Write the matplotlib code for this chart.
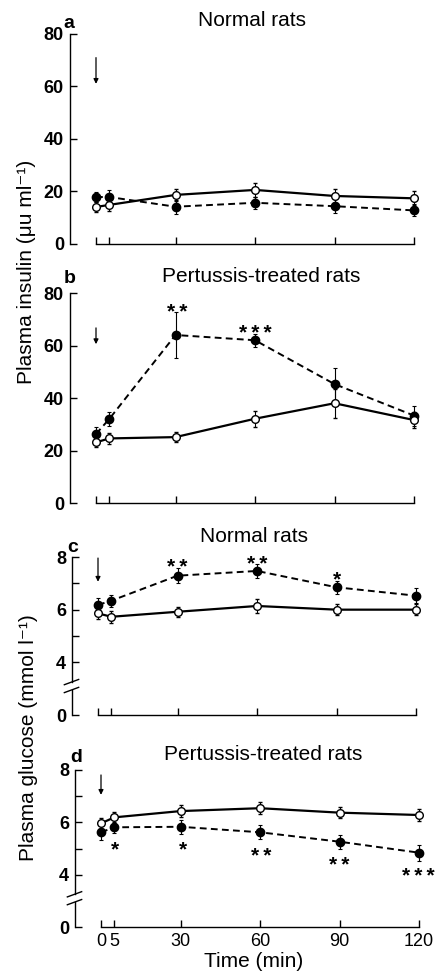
import matplotlib
matplotlib.use('Agg')
import matplotlib.pyplot as plt

plt.rcParams['font.family'] = ['Liberation Sans', 'DejaVu Sans']

# sampling times (min)
TIMES = [0, 5, 30, 60, 90, 120]
TIME_LABELS = ['0', '5', '30', '60', '90', '120']

# plasma insulin (uU/ml), normal rats
ins_norm_ctrl = [14.1, 14.9, 18.7, 20.6, 18.3, 17.4]
ins_norm_ctrl_err = [2.0, 2.4, 2.3, 2.7, 2.8, 2.7]
ins_norm_trt = [17.9, 17.9, 14.2, 15.7, 14.4, 12.8]
ins_norm_trt_err = [2.0, 2.5, 2.7, 2.3, 2.7, 2.3]

# plasma insulin, pertussis-treated rats
ins_pert_ctrl = [23.1, 24.6, 25.1, 32.1, 38.0, 31.6]
ins_pert_ctrl_err = [1.8, 2.2, 1.8, 3.0, 5.5, 3.2]
ins_pert_trt = [26.3, 32.0, 64.0, 62.0, 45.3, 33.3]
ins_pert_trt_err = [2.7, 2.8, 8.8, 2.4, 6.0, 3.8]

# plasma glucose (mmol/l), normal rats
glu_norm_ctrl = [5.86, 5.73, 5.92, 6.14, 6.00, 6.00]
glu_norm_ctrl_err = [0.22, 0.22, 0.20, 0.25, 0.22, 0.20]
glu_norm_trt = [6.18, 6.34, 7.29, 7.47, 6.85, 6.53]
glu_norm_trt_err = [0.25, 0.22, 0.28, 0.27, 0.25, 0.28]

# plasma glucose, pertussis-treated rats
glu_pert_ctrl = [5.96, 6.19, 6.43, 6.54, 6.37, 6.28]
glu_pert_ctrl_err = [0.20, 0.20, 0.22, 0.22, 0.20, 0.22]
glu_pert_trt = [5.62, 5.81, 5.83, 5.62, 5.26, 4.84]
glu_pert_trt_err = [0.30, 0.22, 0.27, 0.27, 0.27, 0.30]

# significance marks: (time, y, number of stars)
stars_b = [(30.5, 75.4, 2), (60, 67.4, 3)]
stars_c = [(30, 7.85, 2), (60, 8.0, 2), (90, 7.4, 1)]
stars_d = [(5.3, 5.2, 1), (31, 5.2, 1), (60.6, 4.98, 2),
           (90, 4.6, 2), (119.6, 4.18, 3)]

W, H = 440, 973
PX_PER_MIN = 2.65
STAR_FS = 15


def _rect(x0_px, y_top_px, y_bot_px):
    left = x0_px - 10 * PX_PER_MIN
    width = 135 * PX_PER_MIN
    return [left / W, 1 - y_bot_px / H, width / W, (y_bot_px - y_top_px) / H]


def _panel(fig, rect, ctrl, ctrl_err, trt, trt_err, ylim, yticks, yticklabels,
           arrow, stars, show_x=False, broken=False):
    ax = fig.add_axes(rect)
    ax.errorbar(TIMES, trt, yerr=trt_err, color='k', ls=(0, (3.5, 2.2)), lw=1.4,
                marker='o', ms=6, mfc='k', mec='k', elinewidth=0.8, capsize=1.6,
                capthick=0.8, zorder=3)
    ax.errorbar(TIMES, ctrl, yerr=ctrl_err, color='k', ls='-', lw=1.6,
                marker='o', ms=5.5, mfc='white', mec='k', mew=1.0, elinewidth=0.8,
                capsize=1.6, capthick=0.8, zorder=4)

    ax.annotate('', xy=(0, arrow[1]), xytext=(0, arrow[0]),
                arrowprops=dict(arrowstyle='-|>', lw=0.9, color='k',
                                mutation_scale=7, shrinkA=0, shrinkB=0))
    for x, y, n in stars:
        ax.annotate('\u2009'.join('*' * n), (x, y), xytext=(0, -0.6 * STAR_FS),
                    textcoords='offset points', ha='center', va='baseline',
                    fontsize=STAR_FS, fontweight='bold')

    ax.set_xlim(-10, 125)
    ax.set_ylim(*ylim)
    for side in ('top', 'right'):
        ax.spines[side].set_visible(False)
    ax.spines['bottom'].set_bounds(0, 120)
    ax.spines['left'].set_linewidth(1.0)
    ax.spines['bottom'].set_linewidth(1.0)
    ax.set_xticks(TIMES)
    ax.set_xticklabels(TIME_LABELS if show_x else [])
    ax.set_yticks(yticks)
    ax.set_yticklabels(yticklabels, fontweight='bold')
    ax.tick_params(direction='in', length=5, width=1.0, labelsize=13, pad=4)

    if broken:
        ax.set_yticks([5, 7], minor=True)
        ax.tick_params(which='minor', direction='in', length=5, width=1.0)
        ax.spines['left'].set_bounds(3.25, ylim[1])
        tr = ax.get_yaxis_transform()
        ax.plot([0, 0], [ylim[0], 2.95], color='k', lw=1.0, transform=tr,
                clip_on=False)
        for yb in (2.95, 3.25):
            ax.plot([-0.02, 0.02], [yb - 0.1, yb + 0.1], color='k', lw=1.0,
                    transform=tr, clip_on=False)
    else:
        ax.spines['left'].set_bounds(*ylim)
    return ax


fig = plt.figure(figsize=(W / 100, H / 100), dpi=100)

_panel(fig, _rect(96, 34, 244), ins_norm_ctrl, ins_norm_ctrl_err,
       ins_norm_trt, ins_norm_trt_err, (0, 80), [0, 20, 40, 60, 80],
       ['0', '20', '40', '60', '80'], (71, 61), [])
_panel(fig, _rect(96, 293, 503), ins_pert_ctrl, ins_pert_ctrl_err,
       ins_pert_trt, ins_pert_trt_err, (0, 80), [0, 20, 40, 60, 80],
       ['0', '20', '40', '60', '80'], (66.7, 60.5), stars_b)
_panel(fig, _rect(98, 557, 715), glu_norm_ctrl, glu_norm_ctrl_err,
       glu_norm_trt, glu_norm_trt_err, (2, 8), [2, 4, 6, 8],
       ['0', '4', '6', '8'], (7.96, 7.06), stars_c, broken=True)
ax_d = _panel(fig, _rect(101, 770, 927), glu_pert_ctrl, glu_pert_ctrl_err,
              glu_pert_trt, glu_pert_trt_err, (2, 8), [2, 4, 6, 8],
              ['0', '4', '6', '8'], (7.81, 7.05), stars_d, show_x=True, broken=True)
ax_d.set_xlabel('Time (min)', fontsize=15, labelpad=2)

titles = [('Normal rats', 252, 21), ('Pertussis-treated rats', 261, 277),
          ('Normal rats', 254, 537), ('Pertussis-treated rats', 263, 754)]
for s, x, y in titles:
    fig.text(x / W, 1 - y / H, s, ha='center', va='center', fontsize=15)

letters = [('a', 69, 24), ('b', 70, 279), ('c', 73, 547), ('d', 76, 758)]
for s, x, y in letters:
    fig.text(x / W, 1 - y / H, s, ha='center', va='center', fontsize=14,
             fontweight='bold')

fig.text(27 / W, 1 - 272 / H, 'Plasma insulin (μu ml⁻¹)', rotation=90,
         ha='center', va='center', fontsize=15)
fig.text(29 / W, 1 - 738 / H, 'Plasma glucose (mmol l⁻¹)', rotation=90,
         ha='center', va='center', fontsize=15)

fig.savefig('out.png', dpi=100)
